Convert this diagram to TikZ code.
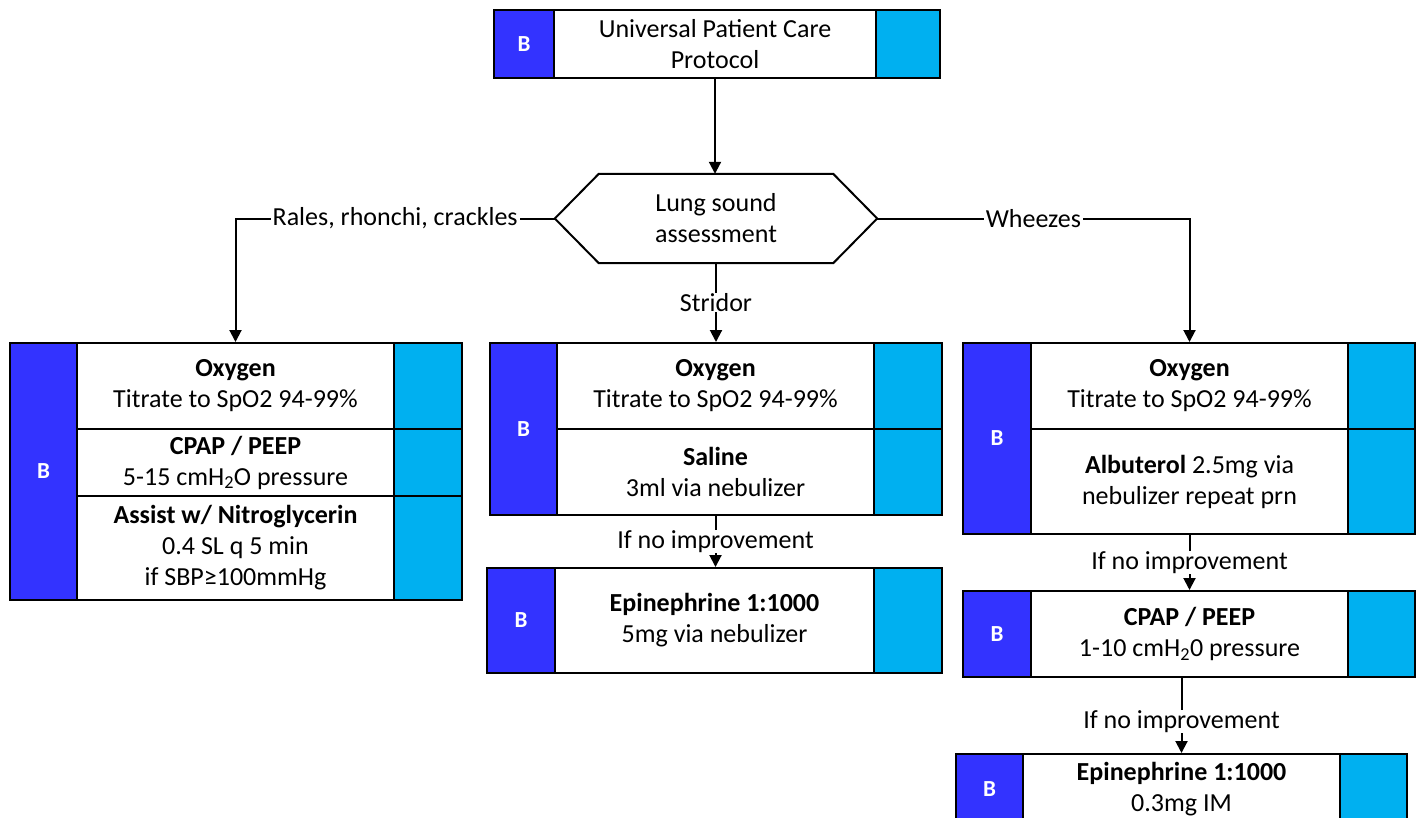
\documentclass[tikz,border=0pt]{standalone}
\usepackage{fontspec}
\setmainfont{Carlito}
\usetikzlibrary{arrows.meta}
\definecolor{bblue}{RGB}{51,51,255}
\definecolor{ccyan}{RGB}{0,176,240}
\tikzset{
  cell/.style={draw=black, line width=2pt, inner sep=0pt, align=center,
    font=\fontsize{26}{31}\selectfont},
  bcell/.style={cell, fill=bblue, text=white, font=\fontsize{23}{27}\selectfont\bfseries},
  ccell/.style={cell, fill=ccyan},
  wcell/.style={cell, fill=white},
  lbl/.style={fill=white, inner xsep=2pt, inner ysep=0pt, font=\fontsize{26}{31}\selectfont},
  arr/.style={line width=2pt, -{Triangle[length=12pt,width=12pt]}},
  edge/.style={line width=2pt, line join=miter}
}
\begin{document}
\begin{tikzpicture}[x=1pt,y=-1pt]
\clip (0,0) rectangle (1423,817);
\fill[white] (0,0) rectangle (1423,817);

% start of protocol
\node[bcell, minimum width=60, minimum height=68] (topB) at (524,44) {B};
\node[wcell, minimum width=322, minimum height=68] (top) at (715,44) {Universal Patient Care\\Protocol};
\node[ccell, minimum width=64, minimum height=68] (topC) at (908,44) {};

% decision hexagon
\node[inner sep=0pt, minimum width=322, minimum height=89, align=center,
  font=\fontsize{26}{31}\selectfont] (lung) at (716,218.5) {Lung sound\\assessment};
\draw[edge] (lung.west) -- ([xshift=44pt]lung.north west) -- ([xshift=-44pt]lung.north east)
  -- (lung.east) -- ([xshift=-44pt]lung.south east) -- ([xshift=44pt]lung.south west) -- cycle;

% left branch: rales, rhonchi, crackles
\node[bcell, minimum width=67, minimum height=257] (LB) at (43.5,471.5) {B};
\node[wcell, minimum width=317, minimum height=86] (L1) at (235.5,386) {\textbf{Oxygen}\\Titrate to SpO2 94-99\%};
\node[wcell, minimum width=317, minimum height=67] (L2) at (235.5,462.5) {\textbf{CPAP / PEEP}\\5-15 cmH\textsubscript{2}O pressure};
\node[wcell, minimum width=317, minimum height=104] (L3) at (235.5,548) {\textbf{Assist w/ Nitroglycerin}\\0.4 SL q 5 min\\if SBP≥100mmHg};
\node[ccell, minimum width=68, minimum height=86] (LC1) at (428,386) {};
\node[ccell, minimum width=68, minimum height=67] (LC2) at (428,462.5) {};
\node[ccell, minimum width=68, minimum height=104] (LC3) at (428,548) {};

% middle branch: stridor
\node[bcell, minimum width=67, minimum height=172] (MB) at (523.5,429) {B};
\node[wcell, minimum width=317, minimum height=86] (M1) at (715.5,386) {\textbf{Oxygen}\\Titrate to SpO2 94-99\%};
\node[wcell, minimum width=317, minimum height=86] (M2) at (715.5,472) {\textbf{Saline}\\3ml via nebulizer};
\node[ccell, minimum width=68, minimum height=86] (MC1) at (908,386) {};
\node[ccell, minimum width=68, minimum height=86] (MC2) at (908,472) {};
\node[bcell, minimum width=68, minimum height=105] (M3B) at (521,620.5) {B};
\node[wcell, minimum width=319, minimum height=105] (M3) at (714.5,620.5) {\textbf{Epinephrine 1:1000}\\5mg via nebulizer};
\node[ccell, minimum width=68, minimum height=105] (M3C) at (908,620.5) {};

% right branch: wheezes
\node[bcell, minimum width=68, minimum height=191] (RB) at (997,438.5) {B};
\node[wcell, minimum width=317, minimum height=86] (R1) at (1189.5,386) {\textbf{Oxygen}\\Titrate to SpO2 94-99\%};
\node[wcell, minimum width=317, minimum height=105] (R2) at (1189.5,481.5) {\textbf{Albuterol} 2.5mg via\\nebulizer repeat prn};
\node[ccell, minimum width=67, minimum height=86] (RC1) at (1381.5,386) {};
\node[ccell, minimum width=67, minimum height=105] (RC2) at (1381.5,481.5) {};
\node[bcell, minimum width=68, minimum height=86] (R3B) at (997,634) {B};
\node[wcell, minimum width=317, minimum height=86] (R3) at (1189.5,634) {\textbf{CPAP / PEEP}\\1-10 cmH\textsubscript{2}0 pressure};
\node[ccell, minimum width=67, minimum height=86] (R3C) at (1381.5,634) {};
\node[bcell, minimum width=67, minimum height=70] (R4B) at (989.5,789) {B};
\node[wcell, minimum width=317, minimum height=70] (R4) at (1181.5,789) {\textbf{Epinephrine 1:1000}\\0.3mg IM};
\node[ccell, minimum width=67, minimum height=70] (R4C) at (1373.5,789) {};

% connectors
\draw[arr] (top.south) -- (top.south |- lung.north);
\draw[arr] (lung.west) -| node[lbl, pos=0.25] {Rales, rhonchi, crackles} (L1.north);
\draw[arr] (lung.east) -| node[lbl, pos=0.25] {Wheezes} (R1.north);
\draw[arr] (lung.south) -- node[lbl] {Stridor} (lung.south |- M1.north);
\draw[arr] (M2.south) -- node[lbl] {If no improvement} (M2.south |- M3.north);
\draw[arr] (R2.south) -- node[lbl] {If no improvement} (R2.south |- R3.north);
\draw[arr] (R3.south -| R4.north) -- node[lbl, pos=0.58] {If no improvement} (R4.north);
\end{tikzpicture}
\end{document}
